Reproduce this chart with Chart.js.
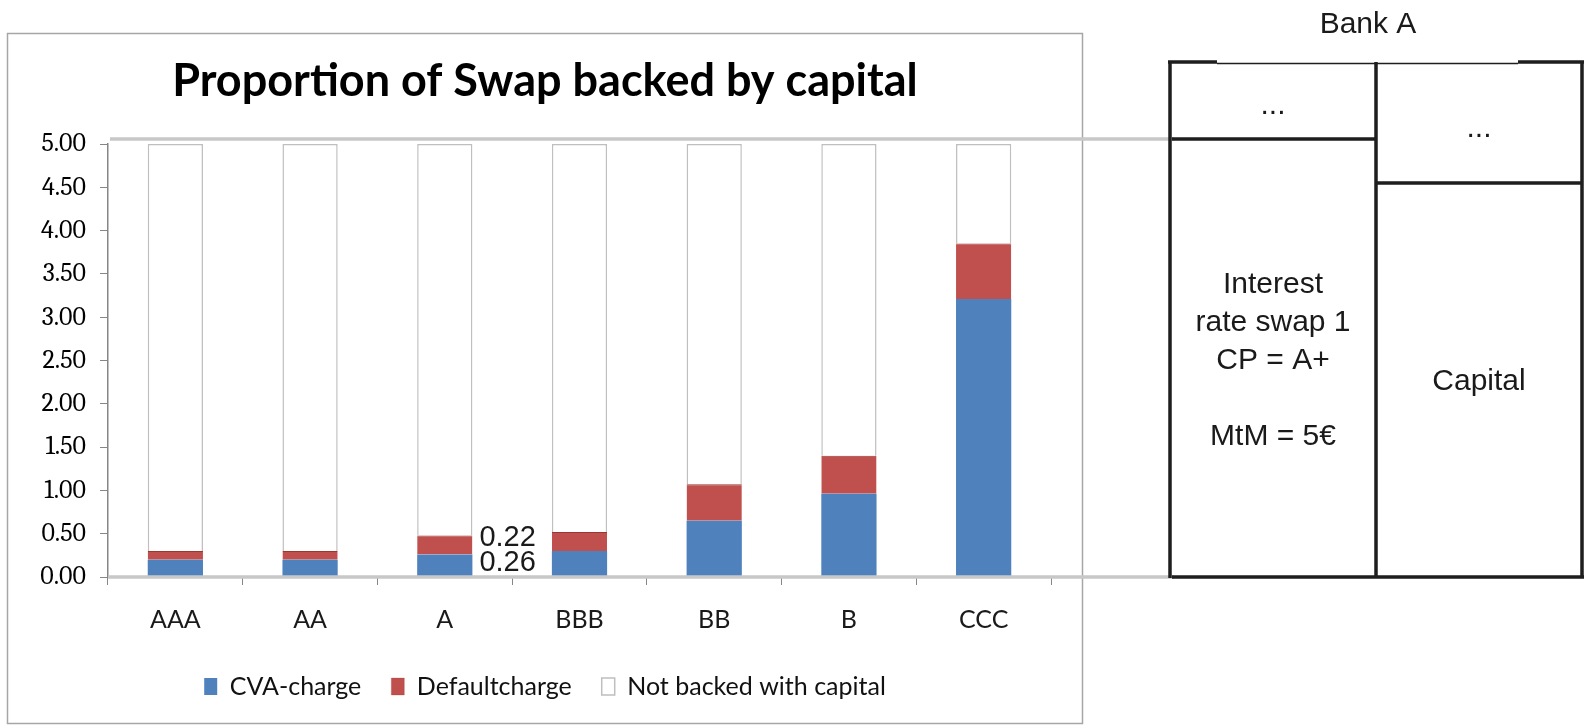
<!DOCTYPE html>
<html>
<head>
<meta charset="utf-8">
<script src="https://cdn.jsdelivr.net/npm/chart.js@4.4.1/dist/chart.umd.min.js"></script>
<style>
  html, body { margin: 0; padding: 0; background: #fff; }
  #wrap { position: relative; width: 1586px; height: 726px; }
</style>
</head>
<body>
<div id="wrap"><canvas id="swapChart" width="1586" height="726"></canvas></div>
<script>
// Rating classes and the split of a 5 EUR swap
const ratings = ['AAA', 'AA', 'A', 'BBB', 'BB', 'B', 'CCC'];
const cvaCharge = [0.20, 0.20, 0.26, 0.30, 0.65, 0.96, 3.21];
const defaultCharge = [0.10, 0.10, 0.22, 0.22, 0.42, 0.44, 0.64];
const notBacked = [4.70, 4.70, 4.52, 4.48, 3.93, 3.60, 1.15];
const seriesNames = ['CVA-charge', 'Defaultcharge', 'Not backed with capital'];
const yMax = 5;
const yStep = 0.5;

// Bank A balance sheet sketch on the right
const bankTitle = 'Bank A';
const swapLines = ['Interest', 'rate swap 1', 'CP = A+', '', 'MtM = 5\u20AC'];
const capitalText = 'Capital';

// frame, connector lines and the balance sheet
const overlayPlugin = {
  id: 'overlay',
  afterDraw(chart) {
    const ctx = chart.ctx;
    const y = chart.scales.y;
    ctx.save();

    // chart frame
    ctx.strokeStyle = '#a6a6a6';
    ctx.lineWidth = 1.5;
    ctx.strokeRect(7.5, 33.5, 1075, 690);

    // connector lines from 5.00 and 0.00 to the balance sheet
    const top = y.getPixelForValue(yMax) - 5;
    const bottom = y.getPixelForValue(0);
    ctx.strokeStyle = '#c8c8c8';
    ctx.lineWidth = 3.5;
    ctx.beginPath();
    ctx.moveTo(110, top); ctx.lineTo(1174, top);
    ctx.moveTo(chart.chartArea.left, bottom); ctx.lineTo(1174, bottom);
    ctx.stroke();

    // balance sheet boxes
    ctx.strokeStyle = '#1e1e1e';
    ctx.lineWidth = 3.5;
    ctx.beginPath();
    ctx.moveTo(1170, 62); ctx.lineTo(1170, bottom + 1);
    ctx.moveTo(1376, 62); ctx.lineTo(1376, bottom + 1);
    ctx.moveTo(1582, 62); ctx.lineTo(1582, bottom + 1);
    ctx.moveTo(1172, bottom); ctx.lineTo(1584, bottom);
    ctx.moveTo(1168, 62); ctx.lineTo(1217, 62);
    ctx.moveTo(1518, 62); ctx.lineTo(1584, 62);
    ctx.moveTo(1172, top); ctx.lineTo(1376, top);
    ctx.moveTo(1376, 183); ctx.lineTo(1582, 183);
    ctx.stroke();
    ctx.lineWidth = 1.5;
    ctx.beginPath();
    ctx.moveTo(1217, 63.5); ctx.lineTo(1518, 63.5);
    ctx.stroke();

    ctx.fillStyle = '#1a1a1a';
    ctx.font = '30px "Liberation Sans", Arial, sans-serif';
    ctx.textAlign = 'center';
    ctx.textBaseline = 'middle';
    ctx.fillText(bankTitle, 1368, 25);
    ctx.fillText('...', 1273, 106);
    ctx.fillText('...', 1479, 129);
    swapLines.forEach((line, i) => ctx.fillText(line, 1273, 285 + i * 38));
    ctx.fillText(capitalText, 1479, 382);

    // value labels next to the A bar
    const i = ratings.indexOf('A');
    const bar = chart.getDatasetMeta(0).data[i];
    const lx = bar.x + bar.width / 2 + 7;
    ctx.font = '29px "Liberation Sans", Arial, sans-serif';
    ctx.textAlign = 'left';
    ctx.fillText(defaultCharge[i].toFixed(2), lx, y.getPixelForValue(cvaCharge[i] + defaultCharge[i]) + 3);
    ctx.fillText(cvaCharge[i].toFixed(2), lx, y.getPixelForValue(cvaCharge[i] / 2) - 3);

    ctx.restore();
  }
};

Chart.defaults.font.family = 'Lato, "Open Sans", sans-serif';
Chart.defaults.color = '#1a1a1a';

const ctx = document.getElementById('swapChart').getContext('2d');
new Chart(ctx, {
  type: 'bar',
  data: {
    labels: ratings,
    datasets: [
      {
        label: seriesNames[0],
        data: cvaCharge,
        backgroundColor: '#4f81bd',
        borderWidth: 0
      },
      {
        label: seriesNames[1],
        data: defaultCharge,
        backgroundColor: '#c0504d',
        borderColor: '#9b3633',
        borderWidth: { top: 1, left: 0, right: 0, bottom: 0 }
      },
      {
        label: seriesNames[2],
        data: notBacked,
        backgroundColor: '#ffffff',
        borderColor: '#bfbfbf',
        borderWidth: 1.5
      }
    ]
  },
  options: {
    responsive: false,
    animation: false,
    devicePixelRatio: 1,
    layout: { padding: { left: 7, right: 503, top: 33, bottom: 17 } },
    datasets: {
      bar: { categoryPercentage: 1, barPercentage: 0.41 }
    },
    plugins: {
      title: {
        display: true,
        text: 'Proportion of Swap backed by capital',
        color: '#000',
        font: { size: 45, weight: 'bold' },
        padding: { top: 21, bottom: 36 }
      },
      legend: {
        position: 'bottom',
        labels: {
          font: { size: 25 },
          color: '#111',
          boxWidth: 13,
          boxHeight: 17,
          padding: 30
        }
      },
      tooltip: { enabled: false }
    },
    scales: {
      x: {
        stacked: true,
        grid: { drawOnChartArea: false, tickLength: 8, color: '#868686', offset: true },
        border: { color: '#868686', width: 1.5 },
        ticks: { font: { size: 25 }, color: '#1a1a1a', padding: 20 },
        afterFit(scale) { scale.height = 67; }
      },
      y: {
        stacked: true,
        min: 0,
        max: yMax,
        grid: { drawOnChartArea: false, tickLength: 8, color: '#868686' },
        border: { color: '#868686', width: 1.5 },
        ticks: {
          stepSize: yStep,
          padding: 14,
          font: { family: 'Cambria, "Liberation Serif", serif', size: 26 },
          color: '#000',
          callback: v => v.toFixed(2)
        },
        afterFit(scale) { scale.width = 101; }
      },
      y2: {
        position: 'right',
        display: true,
        grid: { display: false },
        border: { display: false },
        ticks: { display: false },
        afterFit(scale) { scale.width = 32; }
      }
    }
  },
  plugins: [overlayPlugin]
});
</script>
</body>
</html>
